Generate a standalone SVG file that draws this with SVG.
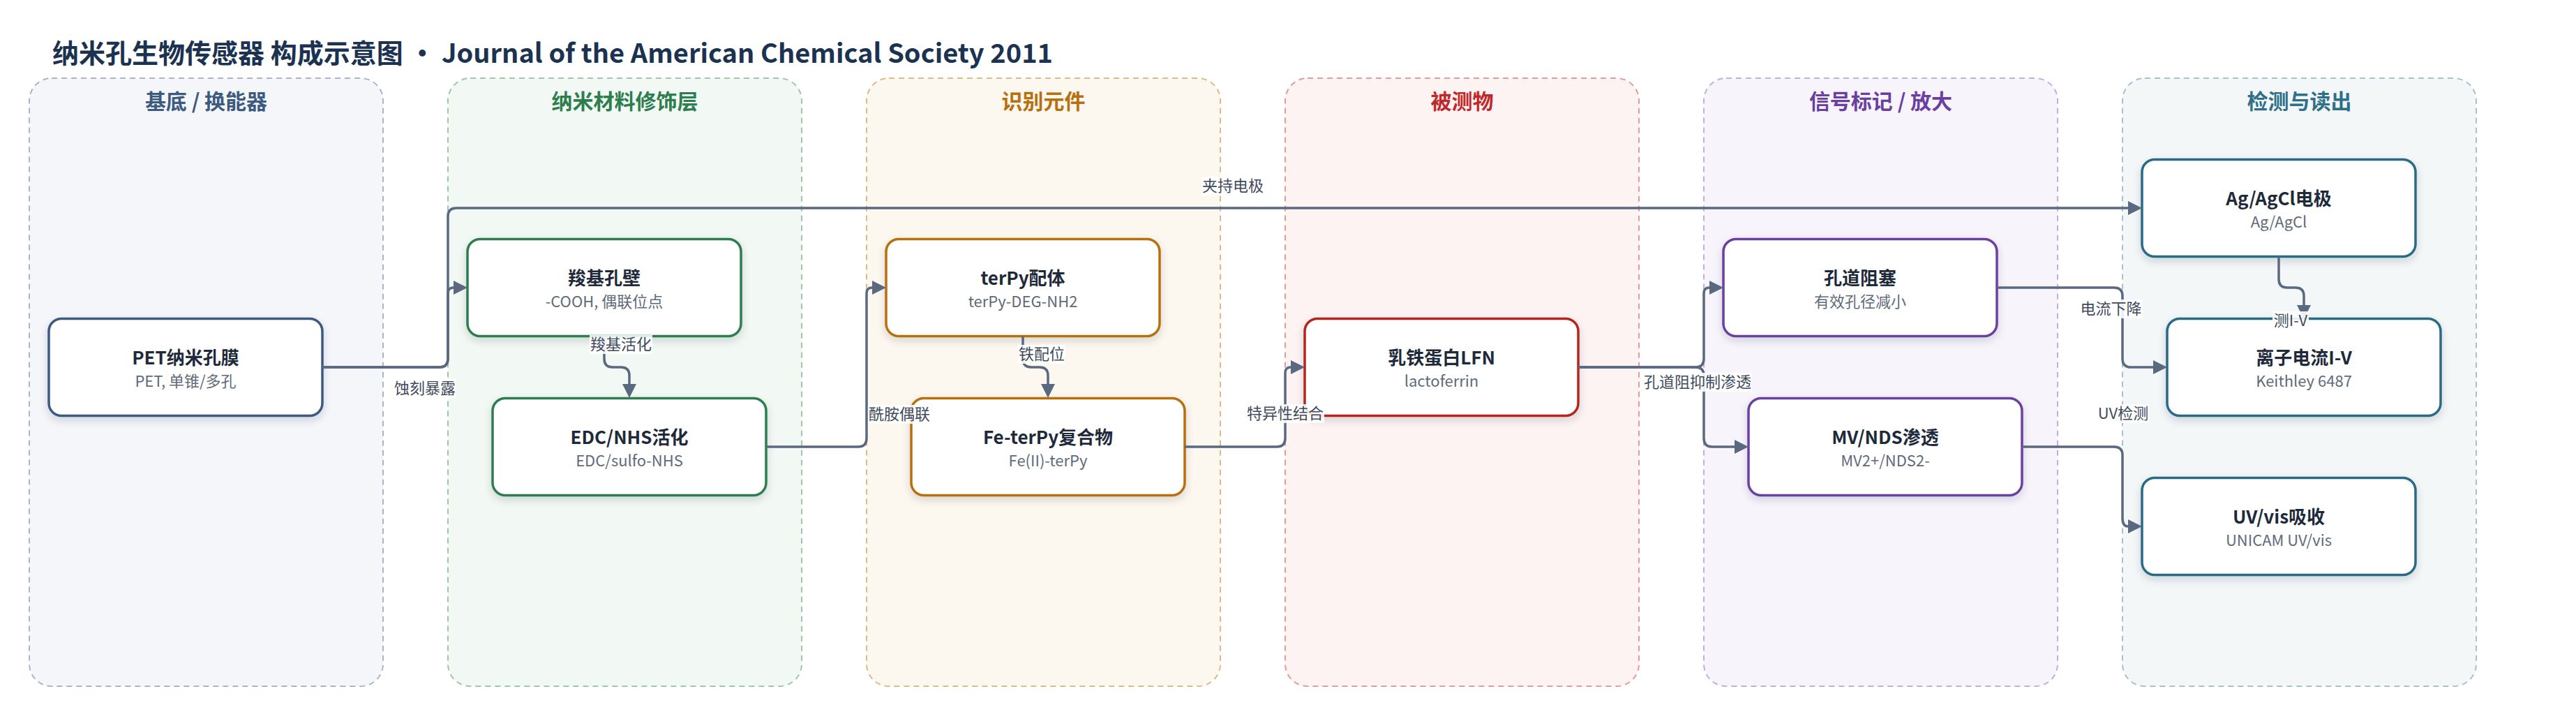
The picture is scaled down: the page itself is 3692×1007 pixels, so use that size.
<svg xmlns="http://www.w3.org/2000/svg" width="3692" height="1007" viewBox="0 0 3692 1007">
<defs>
<filter id="sh" x="-10%" y="-20%" width="120%" height="150%">
<feDropShadow dx="0" dy="5" stdDeviation="6" flood-color="#1e2a3a" flood-opacity="0.16"/>
</filter>
<marker id="arr" markerUnits="userSpaceOnUse" markerWidth="20" markerHeight="20" refX="0" refY="10" orient="auto" viewBox="0 0 20 20">
<path d="M0,0 L20,10 L0,20 Z" fill="#5a6980"/>
</marker>
</defs>
<style>
text{font-family:"Noto Sans CJK SC","Noto Sans",sans-serif}
.title{font-size:38px;font-weight:700;fill:#1b3350}
.lt{font-size:30px;font-weight:700;text-anchor:middle}
.lane{stroke-width:2;stroke-dasharray:8 6}
.node rect{fill:#fff;stroke-width:3.5;filter:url(#sh)}
.nt{font-size:26px;font-weight:700;fill:#1e2a3a;text-anchor:middle}
.ns{font-size:22px;fill:#5f6b7a;text-anchor:middle}
.edge{fill:none;stroke:#5a6980;stroke-width:3.5;marker-end:url(#arr)}
.lb rect{fill:#fff;fill-opacity:0.88}
.lb text{font-size:22px;fill:#3f4b5c;text-anchor:middle}
</style>
<rect width="3692" height="1007" fill="#fff"/>
<text class="title" x="75" y="90">纳米孔生物传感器 构成示意图 · Journal of the American Chemical Society 2011</text>

<g id="lanes">
<g id="lane1"><rect class="lane" x="42" y="112" width="507" height="871" rx="32" fill="#f4f6fa" stroke="#a9b6c9"/><text class="lt" x="295.5" y="156" fill="#3d5a80">基底 / 换能器</text></g>
<g id="lane2"><rect class="lane" x="642" y="112" width="507" height="871" rx="32" fill="#f2f8f3" stroke="#9ccaa9"/><text class="lt" x="895.5" y="156" fill="#2e7d4f">纳米材料修饰层</text></g>
<g id="lane3"><rect class="lane" x="1242" y="112" width="507" height="871" rx="32" fill="#fdf8ef" stroke="#deba86"/><text class="lt" x="1495.5" y="156" fill="#b7700e">识别元件</text></g>
<g id="lane4"><rect class="lane" x="1842" y="112" width="507" height="871" rx="32" fill="#fdf3f2" stroke="#e39b9b"/><text class="lt" x="2095.5" y="156" fill="#c0282b">被测物</text></g>
<g id="lane5"><rect class="lane" x="2442" y="112" width="507" height="871" rx="32" fill="#f7f4fb" stroke="#c3aee0"/><text class="lt" x="2695.5" y="156" fill="#6b3fa0">信号标记 / 放大</text></g>
<g id="lane6"><rect class="lane" x="3042" y="112" width="507" height="871" rx="32" fill="#f3f7f8" stroke="#a3c3ce"/><text class="lt" x="3295.5" y="156" fill="#2f6f8a">检测与读出</text></g>
</g>

<g id="nodes">
<g id="n1" class="node"><rect x="70" y="456.5" width="392" height="139" rx="18" stroke="#3d5a80"/><text class="nt" x="266" y="521.5">PET纳米孔膜</text><text class="ns" x="266" y="553.5">PET, 单锥/多孔</text></g>
<g id="n2" class="node"><rect x="670" y="342.5" width="392" height="139" rx="18" stroke="#2e7d4f"/><text class="nt" x="866" y="407.5">羧基孔壁</text><text class="ns" x="866" y="439.5">-COOH, 偶联位点</text></g>
<g id="n3" class="node"><rect x="706" y="570.5" width="392" height="139" rx="18" stroke="#2e7d4f"/><text class="nt" x="902" y="635.5">EDC/NHS活化</text><text class="ns" x="902" y="667.5">EDC/sulfo-NHS</text></g>
<g id="n4" class="node"><rect x="1270" y="342.5" width="392" height="139" rx="18" stroke="#b7700e"/><text class="nt" x="1466" y="407.5">terPy配体</text><text class="ns" x="1466" y="439.5">terPy-DEG-NH2</text></g>
<g id="n5" class="node"><rect x="1306" y="570.5" width="392" height="139" rx="18" stroke="#b7700e"/><text class="nt" x="1502" y="635.5">Fe-terPy复合物</text><text class="ns" x="1502" y="667.5">Fe(II)-terPy</text></g>
<g id="n6" class="node"><rect x="1870" y="456.5" width="392" height="139" rx="18" stroke="#b3261e"/><text class="nt" x="2066" y="521.5">乳铁蛋白LFN</text><text class="ns" x="2066" y="553.5">lactoferrin</text></g>
<g id="n7" class="node"><rect x="2470" y="342.5" width="392" height="139" rx="18" stroke="#6b3fa0"/><text class="nt" x="2666" y="407.5">孔道阻塞</text><text class="ns" x="2666" y="439.5">有效孔径减小</text></g>
<g id="n8" class="node"><rect x="2506" y="570.5" width="392" height="139" rx="18" stroke="#6b3fa0"/><text class="nt" x="2702" y="635.5">MV/NDS渗透</text><text class="ns" x="2702" y="667.5">MV2+/NDS2-</text></g>
<g id="n9" class="node"><rect x="3070" y="228.5" width="392" height="139" rx="18" stroke="#2b6a87"/><text class="nt" x="3266" y="293.5">Ag/AgCl电极</text><text class="ns" x="3266" y="325.5">Ag/AgCl</text></g>
<g id="n10" class="node"><rect x="3106" y="456.5" width="392" height="139" rx="18" stroke="#2b6a87"/><text class="nt" x="3302" y="521.5">离子电流I-V</text><text class="ns" x="3302" y="553.5">Keithley 6487</text></g>
<g id="n11" class="node"><rect x="3070" y="684.5" width="392" height="139" rx="18" stroke="#2b6a87"/><text class="nt" x="3266" y="749.5">UV/vis吸收</text><text class="ns" x="3266" y="781.5">UNICAM UV/vis</text></g>
</g>

<g id="connectors">
<path class="edge" d="M462,526 H630 Q642,526 642,514 V420 Q642,412 650,412"/>
<path class="edge" d="M462,526 H630 Q642,526 642,514 V310 Q642,298 654,298 H3050"/>
<path class="edge" d="M866,481.5 V514 Q866,526 878,526 H890 Q902,526 902,538 V550"/>
<path class="edge" d="M1098,640 H1230 Q1242,640 1242,628 V420 Q1242,412 1250,412"/>
<path class="edge" d="M1466,481.5 V514 Q1466,526 1478,526 H1490 Q1502,526 1502,538 V550"/>
<path class="edge" d="M1698,640 H1830 Q1842,640 1842,628 V534 Q1842,526 1850,526"/>
<path class="edge" d="M2262,526 H2430 Q2442,526 2442,514 V420 Q2442,412 2450,412"/>
<path class="edge" d="M2262,526 H2430 Q2442,526 2442,538 V628 Q2442,640 2454,640 H2486"/>
<path class="edge" d="M2862,412 H3030 Q3042,412 3042,424 V514 Q3042,526 3054,526 H3086"/>
<path class="edge" d="M2898,640 H3030 Q3042,640 3042,652 V742 Q3042,754 3050,754"/>
<path class="edge" d="M3266,367.5 V400 Q3266,412 3278,412 H3290 Q3302,412 3302,424 V437"/>
<g class="lb"><rect x="564" y="543" width="90" height="27"/><text x="609" y="564">蚀刻暴露</text></g>
<g class="lb"><rect x="1722" y="253" width="90" height="27"/><text x="1767" y="274">夹持电极</text></g>
<g class="lb"><rect x="845" y="480" width="90" height="27"/><text x="890" y="501">羧基活化</text></g>
<g class="lb"><rect x="1244" y="580" width="90" height="27"/><text x="1289" y="601">酰胺偶联</text></g>
<g class="lb"><rect x="1459" y="494" width="68" height="27"/><text x="1493" y="515">铁配位</text></g>
<g class="lb"><rect x="1786" y="579" width="112" height="27"/><text x="1842" y="600">特异性结合</text></g>
<g class="lb"><rect x="2355" y="534" width="156" height="27"/><text x="2433" y="555">孔道阻抑制渗透</text></g>
<g class="lb"><rect x="2980" y="429" width="91" height="27"/><text x="3025.5" y="450">电流下降</text></g>
<g class="lb"><rect x="3006" y="579" width="74" height="27"/><text x="3043" y="600">UV检测</text></g>
<g class="lb"><rect x="3257" y="446" width="52" height="27"/><text x="3283" y="467">测I-V</text></g>
</g>
</svg>
